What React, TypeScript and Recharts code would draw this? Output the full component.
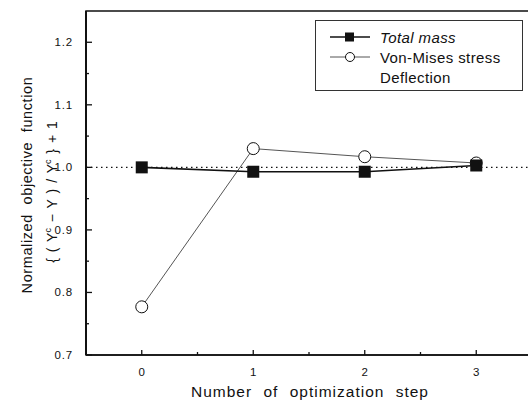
import { LineChart, Line, XAxis, YAxis, ReferenceLine, ReferenceArea } from "recharts";

const steps = [0, 1, 2, 3];
const totalMass = [1.0, 0.993, 0.993, 1.003];
const vonMises = [0.777, 1.03, 1.017, 1.007];
const xTicks = [0, 0.5, 1, 1.5, 2, 2.5, 3];
const yTicks = [0.7, 0.75, 0.8, 0.85, 0.9, 0.95, 1.0, 1.05, 1.1, 1.15, 1.2];
const seriesNames = ["Total mass", "Von-Mises stress", "Deflection"];

const data = steps.map((s, i) => ({ step: s, mass: totalMass[i], stress: vonMises[i] }));

const FONT = "'Liberation Sans', Arial, sans-serif";
const INK = "#111";

const isMajor = (v: number, unit: number) => Math.abs(v / unit - Math.round(v / unit)) < 1e-6;

const XTick = (props: any) => {
  const { x, y, payload } = props;
  const major = isMajor(payload.value, 1);
  return (
    <g>
      <line x1={x} x2={x} y1={y} y2={y - (major ? 5 : 3)} stroke={INK} strokeWidth={1.3} />
      {major && (
        <text x={x} y={y + 21} textAnchor="middle" fontSize={11.5} fontFamily={FONT} fill={INK}>
          {payload.value}
        </text>
      )}
    </g>
  );
};

const YTick = (props: any) => {
  const { x, y, payload } = props;
  const major = isMajor(payload.value, 0.1);
  return (
    <g>
      <line x1={x} x2={x + (major ? 6 : 3)} y1={y} y2={y} stroke={INK} strokeWidth={1.3} />
      {major && (
        <text x={x - 13} y={y + 4} textAnchor="end" fontSize={11.5} letterSpacing={0.8} fontFamily={FONT} fill={INK}>
          {payload.value.toFixed(1)}
        </text>
      )}
    </g>
  );
};

const XTitle = (props: any) => {
  const { viewBox } = props;
  return (
    <text
      x={310}
      y={viewBox.y + 42}
      textAnchor="middle"
      fontSize={15.5}
      fontFamily={FONT}
      letterSpacing={1}
      wordSpacing={6}
      fill={INK}
    >
      Number of optimization step
    </text>
  );
};

const YTitle = (props: any) => {
  const { viewBox } = props;
  const cy = viewBox.y + viewBox.height / 2;
  return (
    <g fontFamily={FONT} fill={INK}>
      <text
        transform={`translate(32, ${cy + 2}) rotate(-90)`}
        textAnchor="middle"
        fontSize={14.5}
        letterSpacing={0.6}
        wordSpacing={5}
      >
        Normalized objective function
      </text>
      <text
        transform={`translate(57, ${cy + 9}) rotate(-90)`}
        textAnchor="middle"
        fontSize={14}
        wordSpacing={2}
      >
        {"{ ( Y"}
        <tspan fontSize={9} dy={-6}>c</tspan>
        <tspan dy={6}>{" \u2212 Y ) / Y"}</tspan>
        <tspan fontSize={9} dy={-6}>c</tspan>
        <tspan dy={6}>{" } + 1"}</tspan>
      </text>
    </g>
  );
};

const LegendBox = () => {
  const rows = [
    { name: seriesNames[0], icon: "square", italic: true },
    { name: seriesNames[1], icon: "circle", italic: false },
    { name: seriesNames[2], icon: "none", italic: false },
  ];
  return (
    <div
      style={{
        position: "absolute",
        left: 315,
        top: 20,
        border: "1px solid #333",
        width: 208,
        height: 71,
        background: "#fff",
        fontFamily: FONT,
        fontSize: 15,
        color: INK,
        paddingTop: 6,
        boxSizing: "border-box",
      }}
    >
      {rows.map((r) => (
        <div key={r.name} style={{ display: "flex", alignItems: "center", height: 20 }}>
          <svg width={40} height={14} style={{ marginLeft: 14, marginRight: 10 }}>
            {r.icon !== "none" && (
              <line x1={0} x2={40} y1={7} y2={7} stroke={r.icon === "square" ? INK : "#555"} strokeWidth={r.icon === "square" ? 1.5 : 1} />
            )}
            {r.icon === "square" && <rect x={15} y={2.5} width={9} height={9} fill={INK} />}
            {r.icon === "circle" && <circle cx={20} cy={7} r={4.5} fill="#fff" stroke={INK} strokeWidth={1} />}
          </svg>
          <span style={{ fontStyle: r.italic ? "italic" : "normal", letterSpacing: 0.4 }}>{r.name}</span>
        </div>
      ))}
    </div>
  );
};

const SquareDot = (props: any) => {
  const { cx, cy } = props;
  return <rect x={cx - 6} y={cy - 6} width={12} height={12} fill={INK} />;
};

export default function App() {
  return (
    <div style={{ position: "absolute", left: 0, top: 0, width: 528, height: 403, overflow: "hidden", background: "#fff" }}>
      <LineChart width={540} height={403} data={data} margin={{ top: 11, right: 8, bottom: 18, left: 26 }}>
        <XAxis
          dataKey="step"
          type="number"
          domain={[-0.5, 3.5]}
          ticks={xTicks}
          interval={0}
          tick={<XTick />}
          tickLine={false}
          tickSize={0}
          tickMargin={0}
          height={30}
          axisLine={{ stroke: INK, strokeWidth: 1.5 }}
          label={{ content: <XTitle /> }}
        />
        <YAxis
          type="number"
          domain={[0.7, 1.25]}
          ticks={yTicks}
          interval={0}
          tick={<YTick />}
          tickLine={false}
          tickSize={0}
          tickMargin={0}
          width={60}
          axisLine={{ stroke: INK, strokeWidth: 2 }}
          label={{ content: <YTitle /> }}
        />
        <ReferenceArea x1={-0.5} x2={3.5} y1={0.7} y2={1.25} fill="none" stroke={INK} strokeWidth={1.5} />
        <ReferenceLine y={1.0} stroke={INK} strokeDasharray="1.5 3.5" strokeWidth={1.2} />
        <Line
          dataKey="stress"
          name={seriesNames[1]}
          stroke="#555"
          strokeWidth={1}
          dot={{ r: 6, fill: "#fff", stroke: INK, strokeWidth: 1 }}
          isAnimationActive={false}
        />
        <Line
          dataKey="mass"
          name={seriesNames[0]}
          stroke={INK}
          strokeWidth={1.6}
          dot={<SquareDot />}
          isAnimationActive={false}
        />
      </LineChart>
      <LegendBox />
    </div>
  );
}
